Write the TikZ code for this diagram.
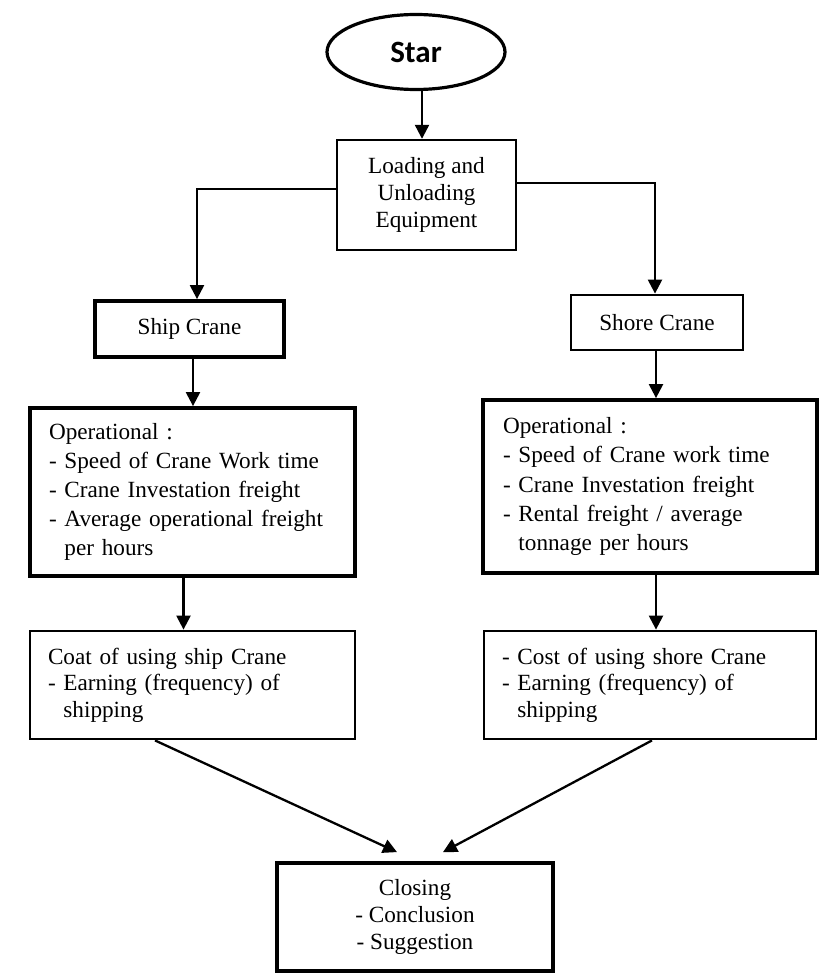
\documentclass[tikz,border=0pt]{standalone}
\usepackage{fontspec}
\setmainfont{Liberation Serif}
\setsansfont{Carlito}
\usetikzlibrary{arrows.meta,shapes.geometric}

\tikzset{
  thinbox/.style={draw,line width=1.2pt,inner sep=0pt,align=center,
    font=\fontsize{11.6}{13.4}\selectfont},
  thickbox/.style={draw,line width=1.9pt,inner sep=0pt,align=center,
    font=\fontsize{11.6}{13.4}\selectfont},
  listbox/.style={draw,line width=1.9pt,inner ysep=0pt,align=left,
    font=\fontsize{11.6}{14.6}\selectfont},
  notebox/.style={draw,line width=1.4pt,inner ysep=0pt,align=left,
    font=\fontsize{11.6}{13.3}\selectfont},
  flow/.style={-{Triangle[length=7pt,width=7pt]},line width=1.15pt}
}

\begin{document}
\begin{tikzpicture}[x=0.5pt,y=-0.5pt]
  \useasboundingbox (0,0) rectangle (818,973);

  \node[ellipse,draw,line width=1.6pt,minimum width=89pt,minimum height=37.5pt,
    inner sep=0pt,font=\sffamily\bfseries\fontsize{15.5}{17}\selectfont] (star) at (416,52) {Star};
  \node[thinbox,minimum width=89.5pt,minimum height=55pt] (load) at (426.5,195)
    {Loading and\\Unloading\\Equipment};

  \node[thickbox,minimum width=94.5pt,minimum height=28pt] (ship) at (189.5,329) {Ship Crane};
  \node[draw,line width=1.4pt,inner sep=0pt,font=\fontsize{11.6}{13.4}\selectfont,
    minimum width=86pt,minimum height=27.5pt] (shore) at (657,322.5) {Shore Crane};

  \node[listbox,inner xsep=9.5pt,text width=143.5pt,minimum height=84pt] (opL) at (192.5,492)
    {Operational :\\- Speed of Crane Work time\\- Crane Investation freight\\
     - Average operational freight\\\phantom{- }per hours};
  \node[listbox,inner xsep=10pt,text width=147pt,minimum height=86.5pt] (opR) at (650,486.5)
    {Operational :\\- Speed of Crane work time\\- Crane Investation freight\\
     - Rental freight / average\\\phantom{- }tonnage per hours};

  \node[notebox,inner xsep=9pt,text width=144.5pt,minimum height=54pt] (coatL) at (192.5,685)
    {Coat of using ship Crane\\- Earning (frequency) of\\\phantom{- }shipping};
  \node[notebox,inner xsep=9pt,text width=148pt,minimum height=54pt] (coatR) at (650,685)
    {- Cost of using shore Crane\\- Earning (frequency) of\\\phantom{- }shipping};

  \node[thickbox,minimum width=138pt,minimum height=54pt] (close) at (415,917)
    {Closing\\- Conclusion\\- Suggestion};

  \coordinate (inL) at ([xshift=-9pt,yshift=4.5pt]close.north);
  \coordinate (inR) at ([xshift=14pt,yshift=4.5pt]close.north);

  % top of the chart
  \draw[flow] ([xshift=3pt]star.south) -- ([xshift=3pt]star.south |- load.north);
  \draw[flow] ([yshift=3pt]load.west) -| ([xshift=3.75pt]ship.north);
  \draw[flow] ([yshift=6pt]load.east) -| ([xshift=-1pt]shore.north);

  % the two branches
  \draw[flow] ([xshift=1.75pt]ship.south) -- ([xshift=1.75pt]ship.south |- opL.north);
  \draw[flow] ([xshift=-4.5pt]opL.south) -- ([xshift=-4.5pt]opL.south |- coatL.north);
  \draw[flow] ([xshift=-0.5pt]shore.south) -- ([xshift=-0.5pt]shore.south |- opR.north);
  \draw[flow] ([xshift=3pt]opR.south) -- ([xshift=3pt]opR.south |- coatR.north);

  \draw[flow] ([xshift=-18.75pt]coatL.south) -- (inL);
  \draw[flow] ([xshift=1pt]coatR.south) -- (inR);
\end{tikzpicture}
\end{document}
